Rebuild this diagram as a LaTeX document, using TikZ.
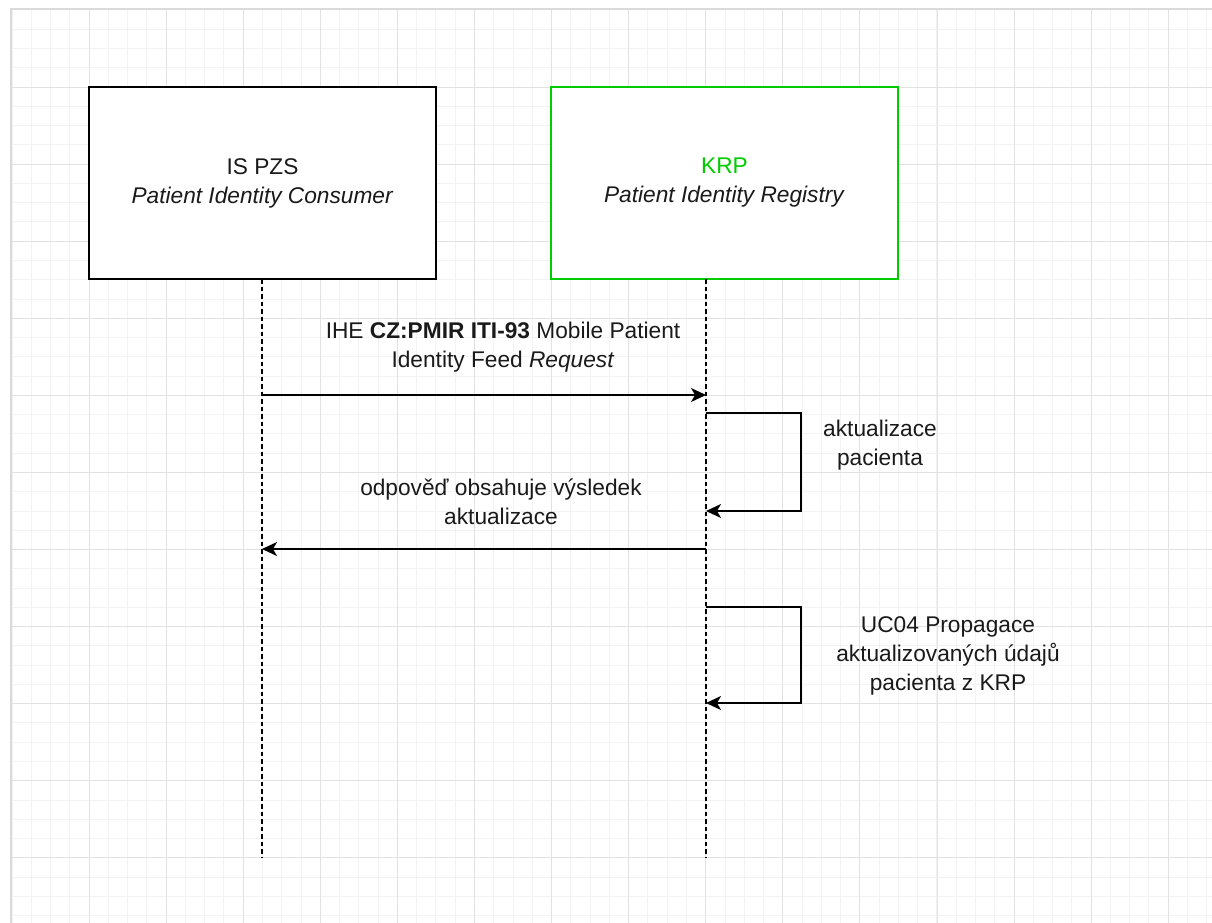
\documentclass[tikz,border=0pt]{standalone}
\usepackage{fontspec}
\setmainfont{Liberation Sans}
\usetikzlibrary{arrows.meta}
\definecolor{gridminor}{HTML}{F3F3F3}
\definecolor{gridmajor}{HTML}{E2E2E2}
\definecolor{frameline}{HTML}{DADADA}
\definecolor{krpgreen}{HTML}{00CC00}
\definecolor{txt}{HTML}{1A1A1A}
\begin{document}
\begin{tikzpicture}[x=1pt,y=-1pt,
  lbl/.style={font=\fontsize{22.7}{29}\selectfont, text=txt, align=center, inner sep=0pt},
  actor/.style={lbl, minimum width=347pt, minimum height=192pt, line width=1.3pt},
  lifeline/.style={line width=1.3pt, dash pattern=on 4.5pt off 3pt},
  msg/.style={line width=1.3pt, -{Stealth[length=15pt,width=14pt,inset=4pt]}}]
\useasboundingbox (0,0) rectangle (1212,923);
\fill[white] (0,0) rectangle (1212,923);
% grid
\foreach \i in {0,...,62} \draw[gridminor, line width=0.8pt] ({11.9+19.27*\i},10) -- ({11.9+19.27*\i},923);
\foreach \i in {0,...,47} \draw[gridminor, line width=0.8pt] (11,{9.9+19.27*\i}) -- (1212,{9.9+19.27*\i});
\foreach \i in {0,...,15} \draw[gridmajor, line width=0.9pt] ({11.9+77.09*\i},10) -- ({11.9+77.09*\i},923);
\foreach \i in {0,...,11} \draw[gridmajor, line width=0.9pt] (11,{9.9+77.09*\i}) -- (1212,{9.9+77.09*\i});
\draw[frameline, line width=1.4pt] (11,923) -- (11,9) -- (1212,9);
% actors
\node[actor, draw=black, fill=white] (pzs) at (262.5,183) {IS PZS\\\textit{Patient Identity Consumer}};
\node[actor, draw=krpgreen, fill=white] (krp) at (724.5,183) {\textcolor{krpgreen}{KRP}\\\textit{Patient Identity Registry}};
% lifelines
\coordinate (pzsTop) at (262,279);
\coordinate (krpTop) at (706,279);
\coordinate (pzsEnd) at (262,858);
\coordinate (krpEnd) at (706,858);
\draw[lifeline] (pzsTop) -- (pzsEnd);
\draw[lifeline] (krpTop) -- (krpEnd);
% messages
\coordinate (m1s) at (262,395);
\coordinate (m1e) at (706,395);
\draw[msg] (m1s) -- (m1e);
\node[lbl] (m1l) at (503,347) {IHE \textbf{CZ:PMIR ITI-93} Mobile Patient\\Identity Feed \textit{Request}};
\coordinate (s1s) at (706,413);
\coordinate (s1e) at (706,511);
\draw[msg] (s1s) -- (801,413) |- (s1e);
\node[lbl] (s1l) at (880,445) {aktualizace\\pacienta};
\coordinate (m2s) at (706,549);
\coordinate (m2e) at (262,549);
\draw[msg] (m2s) -- (m2e);
\node[lbl] (m2l) at (501,502) {odpověď obsahuje výsledek\\aktualizace};
\coordinate (s2s) at (706,607);
\coordinate (s2e) at (706,703);
\draw[msg] (s2s) -- (801,607) |- (s2e);
\node[lbl] (s2l) at (948,656) {UC04 Propagace\\aktualizovaných údajů\\pacienta z KRP};
\end{tikzpicture}
\end{document}
